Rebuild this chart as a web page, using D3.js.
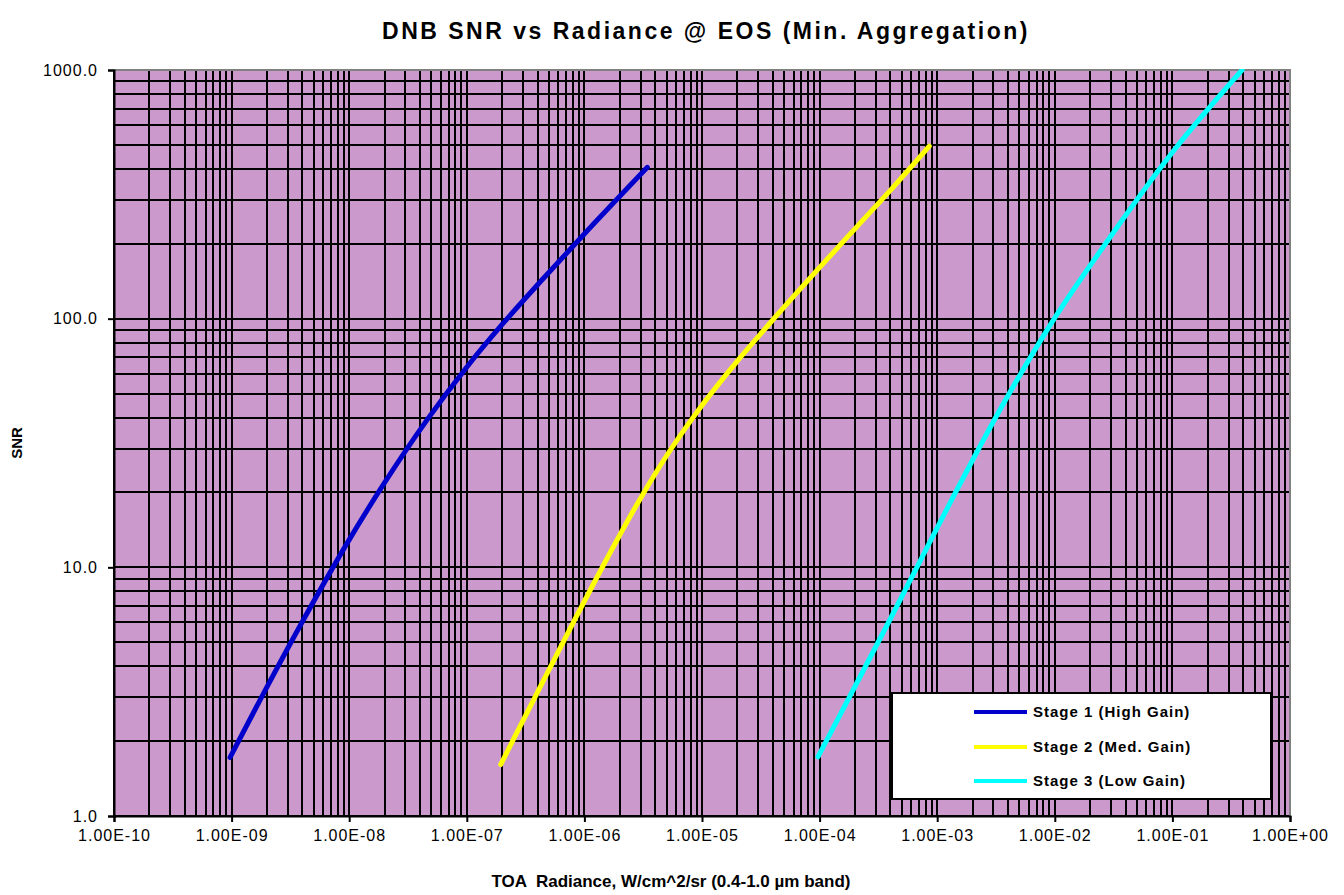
<!DOCTYPE html>
<html>
<head>
<meta charset="utf-8">
<script src="https://cdn.jsdelivr.net/npm/d3@7"></script>
<style>
  html, body { margin: 0; padding: 0; background: #fff; }
  svg { display: block; font-family: "Liberation Sans", Arial, sans-serif; }
</style>
</head>
<body>
<svg id="chart" width="1344" height="895"></svg>
<script>
// ---- data ----
const chartTitle = "DNB SNR vs Radiance @ EOS (Min. Aggregation)";
const xTitle = "TOA  Radiance, W/cm^2/sr (0.4-1.0 µm band)";
const yTitle = "SNR";
const seriesNames = ["Stage 1 (High Gain)", "Stage 2 (Med. Gain)", "Stage 3 (Low Gain)"];
const seriesColors = ["#0000CC", "#FFFF00", "#00FFFF"];

const stage1Radiance = [9.7e-10, 1.86e-9, 4.07e-9, 9.5e-9, 1.95e-8, 4.56e-8, 9.98e-8, 2.04e-7, 4.47e-7, 9.8e-7, 3.43e-6];
const stage1SNR      = [1.72, 3.10, 6.14, 12.4, 21.5, 39.0, 63.8, 95.9, 145, 217, 406];

const stage2Radiance = [1.94e-7, 3.68e-7, 8.6e-7, 1.88e-6, 2.97e-6, 5.0e-6, 9.0e-6, 1.97e-5, 4.32e-5, 9.45e-5, 2.07e-4, 4.23e-4, 8.57e-4];
const stage2SNR      = [1.61, 2.92, 6.38, 12.8, 18.8, 28.1, 41.9, 67.0, 103, 156, 234, 338, 494];

const stage3Radiance = [9.68e-5, 1.82e-4, 3.97e-4, 7.15e-4, 1.29e-3, 3.42e-3, 9.1e-3, 2.94e-2, 9.93e-2, 0.391];
const stage3SNR      = [1.73, 3.05, 6.17, 10.6, 18.2, 43.0, 94.0, 212, 465, 1000];

const xTickValues = [1e-10, 1e-9, 1e-8, 1e-7, 1e-6, 1e-5, 1e-4, 1e-3, 1e-2, 1e-1, 1e0];
const xTickLabels = ["1.00E-10", "1.00E-09", "1.00E-08", "1.00E-07", "1.00E-06", "1.00E-05", "1.00E-04", "1.00E-03", "1.00E-02", "1.00E-01", "1.00E+00"];
const yTickValues = [1, 10, 100, 1000];
const yTickLabels = ["1.0", "10.0", "100.0", "1000.0"];

// ---- layout ----
const svg = d3.select("#chart");
const L = 114, R = 1290, T = 70, B = 816;

const x = d3.scaleLog().domain([1e-10, 1]).range([L, R]);
const y = d3.scaleLog().domain([1, 1000]).range([B, T]);

// plot background
svg.append("rect").attr("x", L).attr("y", T).attr("width", R - L).attr("height", B - T)
  .attr("fill", "#CC99CC");

// grid values (1..9 x 10^k)
const xGrid = [];
for (let k = -10; k < 0; k++) for (let m = 1; m <= 9; m++) xGrid.push(m * Math.pow(10, k));
xGrid.push(1);
const yGrid = [];
for (let k = 0; k < 3; k++) for (let m = 1; m <= 9; m++) yGrid.push(m * Math.pow(10, k));
yGrid.push(1000);

const grid = svg.append("g");
grid.selectAll("line.v").data(xGrid).join("line").attr("class", "v")
  .attr("x1", d => Math.round(x(d))).attr("x2", d => Math.round(x(d)))
  .attr("y1", T).attr("y2", B)
  .attr("stroke", "#000").attr("stroke-width", 2);
grid.selectAll("line.h").data(yGrid).join("line").attr("class", "h")
  .attr("y1", d => Math.round(y(d))).attr("y2", d => Math.round(y(d)))
  .attr("x1", L).attr("x2", R)
  .attr("stroke", "#000").attr("stroke-width", 2);

// plot border top/right gray
svg.append("line").attr("x1", L).attr("x2", R + 1).attr("y1", T).attr("y2", T)
  .attr("stroke", "#808080").attr("stroke-width", 2);
svg.append("line").attr("x1", R).attr("x2", R).attr("y1", T).attr("y2", B)
  .attr("stroke", "#808080").attr("stroke-width", 2);

// axes
const xAxis = d3.axisBottom(x).tickValues(xTickValues)
  .tickFormat((d, i) => xTickLabels[i]).tickSize(6).tickPadding(8);
const gx = svg.append("g").attr("transform", `translate(0,${B})`).call(xAxis);
gx.select(".domain").attr("stroke", "#000").attr("stroke-width", 2);
gx.selectAll(".tick line").attr("stroke", "#000").attr("stroke-width", 2);
gx.selectAll(".tick text").attr("font-size", 16).attr("letter-spacing", "1px")
  .attr("fill", "#000").attr("font-family", "Liberation Sans, Arial, sans-serif");

const yAxis = d3.axisLeft(y).tickValues(yTickValues)
  .tickFormat((d, i) => yTickLabels[i]).tickSize(6).tickPadding(10);
const gy = svg.append("g").attr("transform", `translate(${L},0)`).call(yAxis);
gy.select(".domain").attr("stroke", "#000").attr("stroke-width", 2);
gy.selectAll(".tick line").attr("stroke", "#000").attr("stroke-width", 2);
gy.selectAll(".tick text").attr("font-size", 16).attr("letter-spacing", "1px")
  .attr("fill", "#000").attr("font-family", "Liberation Sans, Arial, sans-serif");

// series
const allSeries = [
  { name: seriesNames[0], color: seriesColors[0], xs: stage1Radiance, ys: stage1SNR },
  { name: seriesNames[1], color: seriesColors[1], xs: stage2Radiance, ys: stage2SNR },
  { name: seriesNames[2], color: seriesColors[2], xs: stage3Radiance, ys: stage3SNR }
];
const line = d3.line().x(d => x(d[0])).y(d => y(d[1])).curve(d3.curveMonotoneX);
const clip = svg.append("clipPath").attr("id", "clipPlot");
clip.append("rect").attr("x", L).attr("y", T - 1).attr("width", R - L).attr("height", B - T + 1);
svg.append("g").attr("clip-path", "url(#clipPlot)")
  .selectAll("path").data(allSeries).join("path")
  .attr("d", s => line(s.xs.map((v, i) => [v, s.ys[i]])))
  .attr("fill", "none").attr("stroke", s => s.color).attr("stroke-width", 5)
  .attr("stroke-linecap", "round").attr("stroke-linejoin", "round");

// legend
const lg = svg.append("g");
lg.append("rect").attr("x", 892).attr("y", 693).attr("width", 379).attr("height", 106)
  .attr("fill", "#fff").attr("stroke", "#000").attr("stroke-width", 2);
const rowY = [712, 747, 781];
allSeries.forEach((s, i) => {
  lg.append("line").attr("x1", 974).attr("x2", 1027).attr("y1", rowY[i]).attr("y2", rowY[i])
    .attr("stroke", s.color).attr("stroke-width", 4);
  lg.append("text").attr("x", 1033).attr("y", rowY[i] + 5)
    .attr("font-size", 15).attr("font-weight", "bold").attr("letter-spacing", "1px")
    .text(s.name);
});

// titles
svg.append("text").attr("x", 706).attr("y", 39).attr("text-anchor", "middle")
  .attr("font-size", 23).attr("font-weight", "bold").attr("letter-spacing", "2.5px")
  .text(chartTitle);
svg.append("text").attr("x", 671).attr("y", 887).attr("text-anchor", "middle")
  .attr("font-size", 17).attr("font-weight", "bold").style("white-space", "pre")
  .text(xTitle);
svg.append("text").attr("transform", "translate(22,443) rotate(-90)").attr("text-anchor", "middle")
  .attr("font-size", 15).attr("font-weight", "bold")
  .text(yTitle);
</script>
</body>
</html>
